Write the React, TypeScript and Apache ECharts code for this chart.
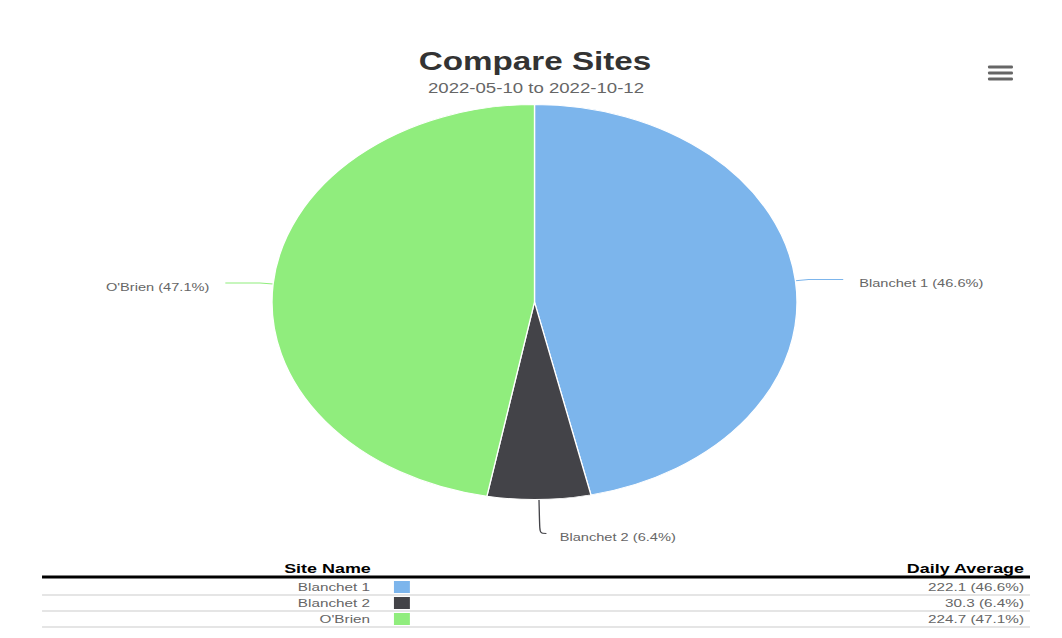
import React, { useEffect, useRef } from "react";
import * as echarts from "echarts";

const chartTitle = "Compare Sites";
const chartSubtitle = "2022-05-10 to 2022-10-12";
const sites = ["Blanchet 1", "Blanchet 2", "O'Brien"];
const dailyAverages = [222.1, 30.3, 224.7];
const percentLabels = ["46.6%", "6.4%", "47.1%"];
const siteColors = ["#7cb5ec", "#434348", "#90ed7d"];
const tableHeaders = ["Site Name", "Daily Average"];

const SX = 1.329;
const W = Math.round(1046 / SX);
const H = 622;

export default function App() {
  const ref = useRef<HTMLDivElement>(null);
  useEffect(() => {
    if (!ref.current) return;
    const chart = echarts.init(ref.current, null, { renderer: "svg" });
    const font = "Arial, 'Liberation Sans', sans-serif";

    const tableTop = 577 - 8;
    const lineL = 25.6;
    const lineR = 769;
    const rowH = 16;
    const tableEls: any[] = [
      {
        type: "text",
        x: 273,
        y: 568 - 8,
        style: { text: tableHeaders[0], font: `bold 13.5px ${font}`, fill: "#000", align: "right", verticalAlign: "middle" },
      },
      {
        type: "text",
        x: 764.5,
        y: 568 - 8,
        style: { text: tableHeaders[1], font: `bold 13.5px ${font}`, fill: "#000", align: "right", verticalAlign: "middle" },
      },
      {
        type: "rect",
        shape: { x: lineL, y: tableTop - 1.5, width: lineR - lineL, height: 3 },
        style: { fill: "#000" },
      },
    ];
    sites.forEach((s, i) => {
      const cy = tableTop + 10 + i * rowH;
      tableEls.push(
        {
          type: "text",
          x: 272.4,
          y: cy,
          style: { text: s, font: `11.5px ${font}`, fill: "#666", align: "right", verticalAlign: "middle" },
        },
        {
          type: "rect",
          shape: { x: 290.4, y: cy - 6, width: 12, height: 12 },
          style: { fill: siteColors[i] },
        },
        {
          type: "text",
          x: 764.5,
          y: cy,
          style: {
            text: `${dailyAverages[i].toFixed(1)} (${percentLabels[i]})`,
            font: `11.5px ${font}`,
            fill: "#666",
            align: "right",
            verticalAlign: "middle",
          },
        },
        {
          type: "rect",
          shape: { x: lineL, y: tableTop + 17.5 + i * rowH, width: lineR - lineL, height: 1 },
          style: { fill: "#cccccc" },
        }
      );
    });

    const menuX = (988 - 8) / SX;
    const menuEls = [0, 1, 2].map((k) => ({
      type: "rect",
      shape: { x: menuX, y: 67 - 8 - 1.5 + k * 6, width: 18.8, height: 3, r: 1 },
      style: { fill: "#666" },
    }));

    chart.setOption({
      animation: false,
      backgroundColor: "#fff",
      graphic: [
        {
          type: "text",
          x: (535 - 8) / SX,
          y: 61 - 8,
          style: { text: chartTitle, font: `bold 25px ${font}`, fill: "#333", align: "center", verticalAlign: "middle" },
        },
        {
          type: "text",
          x: (536 - 8) / SX,
          y: 88 - 8,
          style: { text: chartSubtitle, font: `14px ${font}`, fill: "#666", align: "center", verticalAlign: "middle" },
        },
        ...menuEls,
        ...tableEls,
      ],
      series: [
        {
          type: "pie",
          center: [(534.5 - 8) / SX, 302 - 8],
          radius: 197.5,
          startAngle: 90,
          clockwise: true,
          avoidLabelOverlap: false,
          emphasis: { disabled: true },
          itemStyle: { borderColor: "#fff", borderWidth: 1 },
          label: {
            show: true,
            color: "#666",
            fontSize: 11,
            fontFamily: font,
            distanceToLabelLine: 12,
            formatter: (p: any) => `${p.name} (${percentLabels[p.dataIndex]})`,
          },
          labelLayout: { dy: 4 },
          labelLine: { show: true, length: 10, length2: 26, lineStyle: { width: 1 } },
          data: sites.map((s, i) => ({
            name: s,
            value: dailyAverages[i],
            itemStyle: { color: siteColors[i] },
            ...(i === 1
              ? { labelLine: { length: 34, length2: 5, smooth: 0.4 }, label: { distanceToLabelLine: 10 } }
              : {}),
          })),
        },
      ],
    });
    return () => chart.dispose();
  }, []);

  return (
    <div style={{ position: "relative", width: 1046, height: H, overflow: "hidden" }}>
      <div
        ref={ref}
        style={{
          position: "absolute",
          left: 0,
          top: 0,
          width: W,
          height: H,
          transform: `scaleX(${SX})`,
          transformOrigin: "0 0",
        }}
      />
    </div>
  );
}
